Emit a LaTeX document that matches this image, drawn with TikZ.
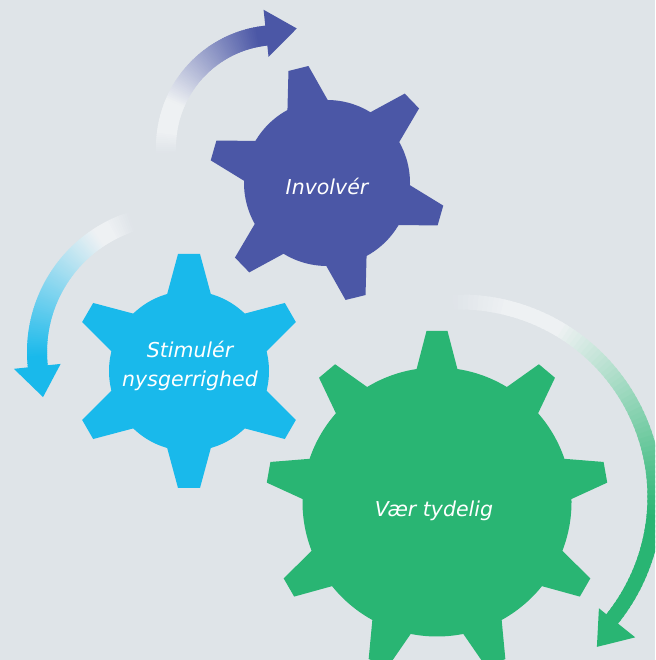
\documentclass[tikz,border=0pt]{standalone}
\usepackage{fontspec}
\setmainfont{DejaVu Sans}
\definecolor{bgc}{HTML}{DFE4E8}
\definecolor{gpurple}{HTML}{4B57A6}
\definecolor{gcyan}{HTML}{19B9EB}
\definecolor{ggreen}{HTML}{29B573}
\definecolor{fadew}{HTML}{EEF1F3}
\tikzset{gearlabel/.style={text=white,font=\fontsize{20.5}{29}\selectfont\itshape,align=center,inner sep=0pt}}
% gear: colour, cx, cy, teeth, first angle, body r, tip r, base half-width, tip half-width
\newcommand{\mygear}[9]{%
  \begin{scope}[shift={(#2,#3)}]
    \fill[#1] (0,0) circle[radius=#6pt];
    \foreach \k in {1,...,#4}{%
      \pgfmathsetmacro{\gang}{#5+360/#4*(\k-1)}%
      \pgfmathsetmacro{\gwin}{#8+8*(#8-#9)/(#7-#6)}%
      \pgfmathsetmacro{\grin}{#6-8}%
      \fill[#1,rotate=\gang] (\grin,-\gwin) -- (#7,-#9) -- (#7,#9) -- (\grin,\gwin) -- cycle;
    }
  \end{scope}}
% gradient arc: colour, cx, cy, r, width, start, end, fade a, fade b
\newcommand{\myarc}[9]{%
  \begin{scope}[shift={(#2,#3)}]
    \foreach \i in {0,...,89}{%
      \pgfmathsetmacro{\angA}{#6+(#7-#6)*\i/90}%
      \pgfmathsetmacro{\angB}{#6+(#7-#6)*(\i+1.5)/90}%
      \pgfmathsetmacro{\frc}{(\i+0.5)/90}%
      \pgfmathsetmacro{\pcol}{100*max(0,min(1,(\frc-#8)/(#9-#8)))}%
      \pgfmathsetmacro{\pwht}{100*min(1,\frc/0.12)}%
      \colorlet{segw}{fadew!\pwht!bgc}%
      \colorlet{segc}{#1!\pcol!segw}%
      \draw[segc,line width=#5pt] (\angA:#4pt) arc[start angle=\angA,end angle=\angB,radius=#4pt];
    }
  \end{scope}}
% arrow head: colour, cx, cy, base angle, r in, r out, tip angle, tip r
\newcommand{\myhead}[8]{%
  \begin{scope}[shift={(#2,#3)}]
    \fill[#1] (#4:#5pt) -- (#4:#6pt) -- (#7:#8pt) -- cycle;
  \end{scope}}
\begin{document}
\begin{tikzpicture}[x=1pt,y=1pt]
  \useasboundingbox (0,0) rectangle (655,660);
  \clip (0,0) rectangle (655,660);
  \fill[bgc] (0,0) rectangle (655,660);
  % arrows
  \myarc{gpurple}{278}{513}{112}{20}{183}{96}{0.3}{0.95}
  \myhead{gpurple}{278}{513}{96}{90.7}{138}{81}{120}
  \myarc{gcyan}{174}{308}{137}{20}{108}{186}{0.2}{0.95}
  \myhead{gcyan}{174}{308}{186}{114}{161}{199}{138.5}
  \myarc{ggreen}{460}{163}{195}{15}{92}{-38.7}{0.25}{0.75}
  \myhead{ggreen}{460}{163}{-38.7}{178}{224.5}{-47.6}{203}
  % gears
  \mygear{gpurple}{327}{477}{6}{104}{83}{118}{20}{10.3}
  \mygear{gcyan}{189}{289}{6}{90}{80}{117}{21}{11}
  \mygear{ggreen}{437}{158}{9}{90}{134.5}{171}{20}{10.5}
  % labels
  \node[gearlabel,anchor=base] (involver) at (327,465) {Involvér};
  \node[gearlabel,anchor=base] (stimuler) at (190,273) {Stimulér\\nysgerrighed};
  \node[gearlabel,anchor=base] (vaer) at (434,143) {Vær tydelig};
\end{tikzpicture}
\end{document}
